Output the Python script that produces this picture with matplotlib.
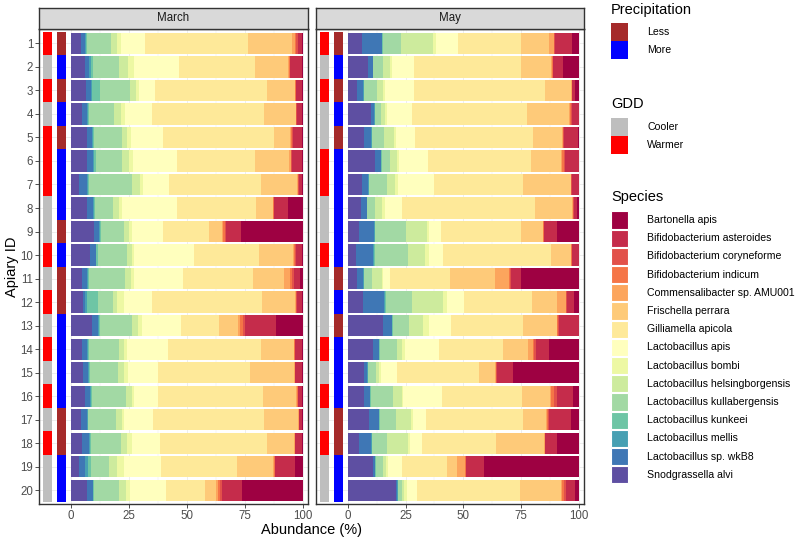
import numpy as np
import matplotlib
matplotlib.use("Agg")
import matplotlib.pyplot as plt
from matplotlib.colors import LinearSegmentedColormap
from matplotlib.patches import Rectangle

plt.rcParams["font.family"] = ["Liberation Sans", "DejaVu Sans"]

# legend order (first = right end of each bar)
SPECIES = ["Bartonella apis", "Bifidobacterium asteroides", "Bifidobacterium coryneforme",
           "Bifidobacterium indicum", "Commensalibacter sp. AMU001", "Frischella perrara",
           "Gilliamella apicola", "Lactobacillus apis", "Lactobacillus bombi",
           "Lactobacillus helsingborgensis", "Lactobacillus kullabergensis",
           "Lactobacillus kunkeei", "Lactobacillus mellis", "Lactobacillus sp. wkB8",
           "Snodgrassella alvi"]
APIARY = list(range(1, 21))
MONTHS = ["March", "May"]

MARCH_GDD = ["Warmer", "Cooler", "Warmer", "Cooler", "Warmer", "Warmer", "Warmer", "Cooler",
             "Cooler", "Warmer", "Cooler", "Warmer", "Cooler", "Warmer", "Cooler", "Warmer",
             "Cooler", "Warmer", "Cooler", "Cooler"]
MARCH_PRECIP = ["Less", "More", "Less", "More", "Less", "More", "More", "More", "Less", "More",
                "Less", "Less", "More", "More", "More", "More", "Less", "Less", "More", "More"]
MAY_GDD = ["Warmer", "Cooler", "Warmer", "Cooler", "Cooler", "Warmer", "Warmer", "Cooler",
           "Cooler", "Warmer", "Cooler", "Cooler", "Cooler", "Warmer", "Cooler", "Warmer",
           "Cooler", "Warmer", "Cooler", "Cooler"]
MAY_PRECIP = ["Less", "More", "Less", "More", "Less", "More", "More", "More", "More", "More",
              "Less", "More", "Less", "More", "More", "More", "Less", "Less", "More", "More"]

# abundance (%) per apiary, columns left -> right:
# Snodgrassella, L.sp.wkB8, L.mellis, L.kunkeei, L.kullabergensis, L.helsingborgensis,
# L.bombi, L.apis, Gilliamella, Frischella, Commensalibacter, B.indicum, B.coryneforme,
# B.asteroides, Bartonella
MARCH_ABUND = [
    [4.2, 1.8, 0.5, 0.5, 10.3, 2.4, 1.7, 10.7, 44.4, 19.0, 1.2, 0.6, 0.8, 1.6, 0.3],
    [6.0, 1.9, 0.8, 0.9, 11.0, 3.9, 2.8, 19.3, 32.8, 14.4, 0.5, 0.2, 0.2, 4.9, 0.4],
    [6.5, 2.2, 0.4, 3.4, 13.0, 2.6, 1.3, 7.0, 48.3, 12.0, 0.2, 0.1, 0.1, 2.7, 0.2],
    [4.6, 2.5, 0.4, 0.4, 10.8, 2.7, 1.9, 11.8, 48.4, 13.5, 0.2, 0.1, 0.1, 2.5, 0.1],
    [7.1, 1.8, 0.4, 0.5, 12.2, 2.0, 1.9, 14.0, 47.7, 7.1, 0.5, 0.3, 0.5, 3.6, 0.4],
    [7.1, 2.5, 0.5, 0.5, 11.4, 3.0, 1.9, 18.9, 33.5, 14.9, 0.6, 0.4, 0.3, 4.1, 0.4],
    [3.5, 3.6, 0.4, 0.3, 18.5, 3.5, 1.1, 11.3, 39.8, 15.7, 0.3, 0.2, 0.1, 1.6, 0.1],
    [7.1, 2.5, 0.3, 0.3, 7.8, 2.9, 1.0, 23.9, 33.9, 7.4, 0.3, 0.2, 0.1, 6.1, 6.2],
    [10.1, 2.0, 0.5, 0.5, 9.9, 2.0, 1.3, 13.6, 19.7, 5.7, 0.5, 0.8, 0.4, 6.3, 26.7],
    [8.2, 2.4, 0.4, 0.5, 12.5, 2.2, 1.1, 25.9, 27.8, 15.0, 0.5, 0.3, 0.2, 2.6, 0.4],
    [4.6, 2.5, 0.3, 0.3, 15.6, 2.6, 1.3, 21.0, 30.5, 13.2, 2.6, 1.0, 0.9, 2.6, 1.0],
    [5.0, 1.2, 0.9, 4.7, 6.5, 1.7, 2.9, 11.9, 47.5, 14.4, 0.3, 0.2, 0.2, 2.4, 0.2],
    [8.9, 2.9, 0.4, 0.5, 13.5, 2.9, 1.7, 16.7, 16.5, 8.2, 0.9, 1.3, 0.9, 13.0, 11.7],
    [4.6, 2.5, 0.4, 0.4, 12.7, 2.4, 1.0, 18.0, 39.9, 14.4, 0.2, 0.1, 0.1, 3.2, 0.1],
    [5.0, 2.5, 0.4, 0.3, 11.9, 2.8, 1.8, 12.7, 39.9, 19.1, 0.2, 0.1, 0.1, 3.1, 0.1],
    [6.0, 2.2, 0.4, 0.4, 14.6, 2.6, 1.0, 10.5, 45.0, 14.3, 0.5, 0.4, 0.2, 1.8, 0.1],
    [4.3, 2.5, 0.4, 0.3, 11.9, 2.5, 1.1, 12.5, 47.8, 14.8, 0.2, 0.1, 0.1, 1.4, 0.1],
    [4.9, 2.9, 0.4, 0.4, 13.0, 2.7, 1.9, 12.2, 46.3, 11.6, 0.3, 0.1, 0.1, 3.1, 0.1],
    [3.6, 2.4, 1.2, 1.4, 7.9, 3.5, 3.0, 15.8, 32.7, 15.6, 0.5, 0.3, 0.2, 8.6, 3.3],
    [7.1, 2.3, 0.3, 0.3, 10.9, 2.7, 1.9, 15.5, 16.8, 4.8, 1.0, 0.7, 0.7, 8.7, 26.3],
]
MAY_ABUND = [
    [6.0, 8.7, 0.2, 0.3, 7.8, 13.7, 1.4, 9.7, 27.0, 12.3, 1.8, 0.3, 0.3, 7.3, 3.2],
    [8.6, 2.2, 0.2, 0.1, 4.3, 3.0, 0.7, 9.4, 46.3, 13.0, 0.5, 0.3, 0.2, 4.3, 6.9],
    [4.2, 2.6, 0.2, 0.1, 5.7, 2.5, 0.8, 12.4, 56.7, 11.2, 0.3, 0.2, 0.2, 1.0, 1.9],
    [10.1, 1.4, 0.2, 0.1, 2.7, 1.8, 0.6, 10.7, 49.7, 18.2, 0.6, 0.4, 0.4, 3.0, 0.1],
    [7.1, 3.0, 0.2, 0.2, 5.2, 4.4, 0.8, 8.3, 50.7, 12.5, 0.4, 0.3, 0.3, 6.2, 0.4],
    [11.8, 2.6, 0.2, 0.1, 3.6, 3.1, 0.9, 12.5, 44.2, 13.1, 0.6, 0.6, 0.5, 6.1, 0.1],
    [6.0, 2.9, 0.2, 0.2, 7.7, 3.6, 1.3, 15.5, 38.4, 20.5, 0.2, 0.1, 0.1, 3.2, 0.1],
    [5.8, 2.4, 0.2, 0.1, 3.4, 3.1, 1.1, 7.2, 57.6, 16.1, 0.3, 0.2, 0.2, 1.3, 1.0],
    [5.0, 6.5, 0.2, 0.2, 13.3, 8.9, 1.2, 5.0, 34.5, 9.4, 0.3, 0.2, 0.2, 5.5, 9.6],
    [3.6, 7.2, 0.4, 0.4, 14.3, 7.5, 1.9, 6.0, 46.5, 8.6, 0.2, 0.2, 0.1, 3.0, 0.1],
    [4.2, 2.6, 0.2, 0.2, 3.2, 4.3, 0.4, 3.2, 25.9, 19.4, 6.0, 0.6, 0.3, 4.3, 25.2],
    [6.5, 9.2, 0.3, 0.5, 11.1, 13.7, 1.4, 7.5, 29.2, 11.2, 3.5, 0.3, 0.3, 3.0, 2.3],
    [15.1, 3.9, 0.2, 0.2, 7.2, 6.1, 2.6, 9.3, 31.2, 14.4, 0.4, 0.3, 0.3, 8.6, 0.2],
    [11.1, 2.3, 0.2, 0.2, 7.5, 2.2, 1.4, 14.5, 27.8, 10.8, 1.9, 0.7, 0.6, 5.7, 13.1],
    [7.1, 1.4, 0.2, 0.2, 3.3, 1.5, 0.7, 6.8, 35.5, 6.9, 0.4, 0.2, 0.1, 6.9, 28.8],
    [7.1, 2.5, 0.2, 0.2, 9.4, 3.9, 0.7, 16.9, 34.6, 11.8, 0.7, 1.3, 0.9, 7.2, 2.6],
    [9.2, 4.3, 0.2, 0.2, 7.1, 6.3, 0.8, 5.7, 42.0, 9.7, 0.6, 0.5, 0.3, 9.5, 3.6],
    [4.9, 5.2, 0.2, 0.2, 6.3, 9.4, 0.7, 5.0, 32.0, 21.0, 0.2, 0.2, 0.1, 5.2, 9.4],
    [10.8, 1.0, 0.2, 0.3, 3.0, 1.2, 0.8, 6.0, 19.7, 4.3, 3.3, 0.4, 0.3, 7.5, 41.2],
    [20.9, 0.5, 0.2, 0.2, 1.5, 1.2, 1.0, 4.3, 44.6, 17.7, 0.6, 0.8, 0.6, 4.0, 1.9],
]

GDD_COL = {"Cooler": "#BEBEBE", "Warmer": "#FF0000"}
PRECIP_COL = {"Less": "#A52A2A", "More": "#0000FF"}
SPECTRAL = ["#9E0142", "#D53E4F", "#F46D43", "#FDAE61", "#FEE08B", "#FFFFBF",
            "#E6F598", "#ABDDA4", "#66C2A5", "#3288BD", "#5E4FA2"]
cmap = LinearSegmentedColormap.from_list("spec", SPECTRAL)
sp_cols = [cmap(i / (len(SPECIES) - 1)) for i in range(len(SPECIES))]
stack_cols = sp_cols[::-1]

W, H = 800, 541
fig = plt.figure(figsize=(W / 100, H / 100), dpi=100)


def fx(px):
    return px / W


def fy(py):
    return 1 - py / H


TXT = 8.3
LEG_TXT = 7.6
panel_top, panel_bot = 29.3, 504.3
panels = [(39.0, 307.7), (315.7, 584.3)]
data = [(MARCH_ABUND, MARCH_GDD, MARCH_PRECIP), (MAY_ABUND, MAY_GDD, MAY_PRECIP)]

for k, ((x0, x1), (ab, gdd, pre)) in enumerate(zip(panels, data)):
    ax = fig.add_axes([fx(x0), fy(panel_bot), fx(x1 - x0), (panel_bot - panel_top) / H])
    ab = np.array(ab)
    y = np.array(APIARY)
    left = np.zeros(len(y))
    for j in range(ab.shape[1]):
        ax.barh(y, ab[:, j], left=left, height=0.9, color=stack_cols[j], linewidth=0, zorder=2)
        left += ab[:, j]
    ax.barh(y, 4, left=-12, height=1.0, color=[GDD_COL[g] for g in gdd], linewidth=0, zorder=2)
    ax.barh(y, 4, left=-6, height=1.0, color=[PRECIP_COL[p] for p in pre], linewidth=0, zorder=2)
    ax.set_xlim(-13.8, 102.2)
    ax.set_ylim(20.6, 0.4)
    ax.set_xticks([0, 25, 50, 75, 100])
    ax.set_xticks([12.5, 37.5, 62.5, 87.5], minor=True)
    ax.set_yticks(APIARY)
    ax.grid(True, which="major", color="#EBEBEB", lw=0.6, zorder=0)
    ax.grid(True, which="minor", axis="x", color="#EBEBEB", lw=0.3, zorder=0)
    ax.set_axisbelow(True)
    for s in ax.spines.values():
        s.set_color("#333333")
        s.set_linewidth(1.0)
    ax.tick_params(axis="both", which="major", length=3, width=0.6, color="#333333",
                   labelsize=TXT, labelcolor="#4D4D4D", pad=1.2)
    ax.tick_params(which="minor", length=0)
    if k == 1:
        ax.tick_params(axis="y", left=False, labelleft=False)
    # strip
    sax = fig.add_axes([fx(x0), fy(panel_top), fx(x1 - x0), (panel_top - 7.5) / H])
    sax.set_facecolor("#D9D9D9")
    sax.set_xticks([])
    sax.set_yticks([])
    for s in sax.spines.values():
        s.set_color("#333333")
        s.set_linewidth(1.0)
    sax.text(0.5, 0.5, MONTHS[k], ha="center", va="center", fontsize=TXT, color="#1A1A1A")

fig.text(fx(12), fy(267), "Apiary ID", rotation=90, ha="center", va="center", fontsize=10.5)
fig.text(fx(311.5), fy(530), "Abundance (%)", ha="center", va="center", fontsize=10.5)

# legends
KX, KS, TX = 611, 17.3, 647


def key(yc, col, edge=None):
    fig.patches.append(Rectangle((fx(KX), fy(yc + KS / 2)), fx(KS), KS / H,
                                 transform=fig.transFigure, facecolor=col,
                                 edgecolor=edge if edge else col, linewidth=0.8 if edge else 0))


fig.text(fx(KX), fy(10), "Precipitation", ha="left", va="center", fontsize=10.5)
for i, lab in enumerate(["Less", "More"]):
    yc = 32 + 18 * i
    key(yc, PRECIP_COL[lab])
    fig.text(fx(TX), fy(yc), lab, ha="left", va="center", fontsize=LEG_TXT)

fig.text(fx(KX), fy(104), "GDD", ha="left", va="center", fontsize=10.5)
for i, lab in enumerate(["Cooler", "Warmer"]):
    yc = 127 + 18 * i
    key(yc, GDD_COL[lab])
    fig.text(fx(TX), fy(yc), lab, ha="left", va="center", fontsize=LEG_TXT)

fig.text(fx(KX), fy(197), "Species", ha="left", va="center", fontsize=10.5)
for i, lab in enumerate(SPECIES):
    yc = 220 + 18.2 * i
    key(yc, sp_cols[i], edge="white")
    fig.text(fx(TX), fy(yc), lab, ha="left", va="center", fontsize=LEG_TXT)

fig.savefig("out.png", dpi=100)
